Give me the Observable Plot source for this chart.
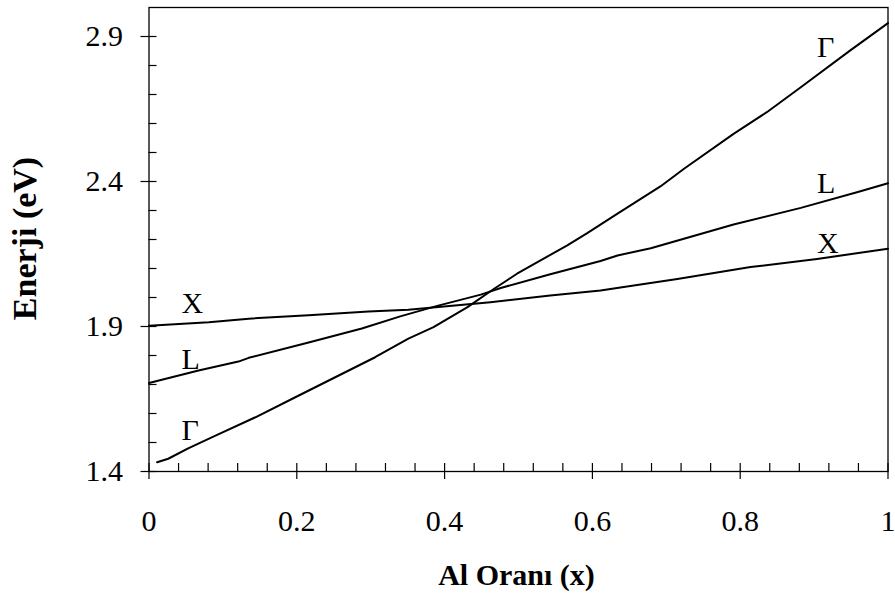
<!DOCTYPE html>
<html><head><meta charset="utf-8">
<script src="https://cdn.jsdelivr.net/npm/d3@7"></script>
<script src="https://cdn.jsdelivr.net/npm/@observablehq/plot@0.6"></script>
<style>
html,body{margin:0;padding:0;background:#fff;}
</style></head><body><div id="chart"></div>
<script>
// Γ band edge
const xGamma = [0.011, 0.026, 0.053, 0.090, 0.144, 0.198, 0.252, 0.306, 0.351, 0.385, 0.431, 0.467, 0.498, 0.566, 0.593, 0.634, 0.692, 0.724, 0.791, 0.836, 0.882, 0.949, 1.0];
const eGamma = [1.432, 1.444, 1.480, 1.524, 1.587, 1.656, 1.725, 1.794, 1.858, 1.898, 1.967, 2.030, 2.082, 2.180, 2.222, 2.289, 2.383, 2.444, 2.564, 2.639, 2.725, 2.852, 2.946];
// L band edge
const xL = [0, 0.067, 0.121, 0.135, 0.216, 0.288, 0.340, 0.390, 0.449, 0.476, 0.543, 0.611, 0.634, 0.679, 0.791, 0.882, 0.958, 1.0];
const eL = [1.705, 1.748, 1.779, 1.792, 1.845, 1.893, 1.935, 1.971, 2.010, 2.033, 2.080, 2.126, 2.145, 2.170, 2.252, 2.309, 2.363, 2.394];
// X band edge
const xX = [0, 0.081, 0.135, 0.216, 0.297, 0.351, 0.462, 0.543, 0.611, 0.656, 0.715, 0.814, 0.904, 1.0];
const eX = [1.903, 1.915, 1.927, 1.939, 1.952, 1.958, 1.984, 2.007, 2.024, 2.041, 2.064, 2.105, 2.133, 2.168];

// curve labels
const labelNames = ["X", "L", "Γ", "Γ", "L", "X"];
const labelX = [0.044, 0.044, 0.044, 0.904, 0.904, 0.904];
const labelE = [1.948, 1.752, 1.507, 2.828, 2.359, 2.155];

// ticks
const xTicks = [0, 0.2, 0.4, 0.6, 0.8, 1];
const xTickLabels = ["0", "0.2", "0.4", "0.6", "0.8", "1"];
const xMinor = [0.04, 0.08, 0.12, 0.16, 0.24, 0.28, 0.32, 0.36, 0.44, 0.48, 0.52, 0.56, 0.64, 0.68, 0.72, 0.76, 0.84, 0.88, 0.92, 0.96];
const yTicks = [1.4, 1.9, 2.4, 2.9];
const yTickLabels = ["1.4", "1.9", "2.4", "2.9"];
const yMinor = [1.5, 1.6, 1.7, 1.8, 2.0, 2.1, 2.2, 2.3, 2.5, 2.6, 2.7, 2.8];

const xTitle = "Al Oranı (x)";
const yTitle = "Enerji (eV)";

const series = [
  ...xGamma.map((x, i) => ({band: "Γ", x, e: eGamma[i]})),
  ...xL.map((x, i) => ({band: "L", x, e: eL[i]})),
  ...xX.map((x, i) => ({band: "X", x, e: eX[i]}))
];
const labels = labelNames.map((t, i) => ({t, x: labelX[i], e: labelE[i]}));

const font = "'Liberation Serif', 'Times New Roman', serif";

const chart = Plot.plot({
  width: 895,
  height: 601,
  marginLeft: 148.5,
  marginRight: 7.5,
  marginTop: 7,
  marginBottom: 130,
  style: {fontFamily: font, fontSize: "30px", color: "#000", background: "#fff"},
  x: {domain: [0, 1]},
  y: {domain: [1.4, 3.0]},
  marks: [
    Plot.axisX(xTicks, {anchor: "bottom", tickSize: 8, tickPadding: 30, tickFormat: d => xTickLabels[xTicks.indexOf(d)], label: null, fontSize: 30, strokeWidth: 1.2}),
    Plot.axisX(xTicks.concat(xMinor), {anchor: "bottom", tickSize: 8, insetBottom: 8, fill: null, label: null, strokeWidth: 1.2}),
    Plot.axisY(yTicks, {anchor: "left", tickSize: 8, tickPadding: 18, tickFormat: d => yTickLabels[yTicks.indexOf(d)], label: null, fontSize: 30, strokeWidth: 1.2}),
    Plot.axisY(yTicks.concat(yMinor), {anchor: "left", tickSize: 8, insetLeft: 8, fill: null, label: null, strokeWidth: 1.2}),
    Plot.frame({stroke: "#000", strokeWidth: 1.3}),
    Plot.line(series, {x: "x", y: "e", z: "band", stroke: "#000", strokeWidth: 2, curve: "linear"}),
    Plot.text(labels, {x: "x", y: "e", text: "t", textAnchor: "start", lineAnchor: "bottom", fontSize: 30, fill: "#000"}),
    Plot.text([xTitle], {frameAnchor: "bottom", dy: 113, dx: -2, textAnchor: "middle", fontWeight: "bold", fontSize: 30, fill: "#000"}),
    Plot.text([yTitle], {frameAnchor: "left", rotate: -90, dx: -123.5, dy: -1, textAnchor: "middle", fontWeight: "bold", fontSize: 34, fill: "#000"})
  ]
});
document.getElementById("chart").appendChild(chart);
</script>
</body></html>
